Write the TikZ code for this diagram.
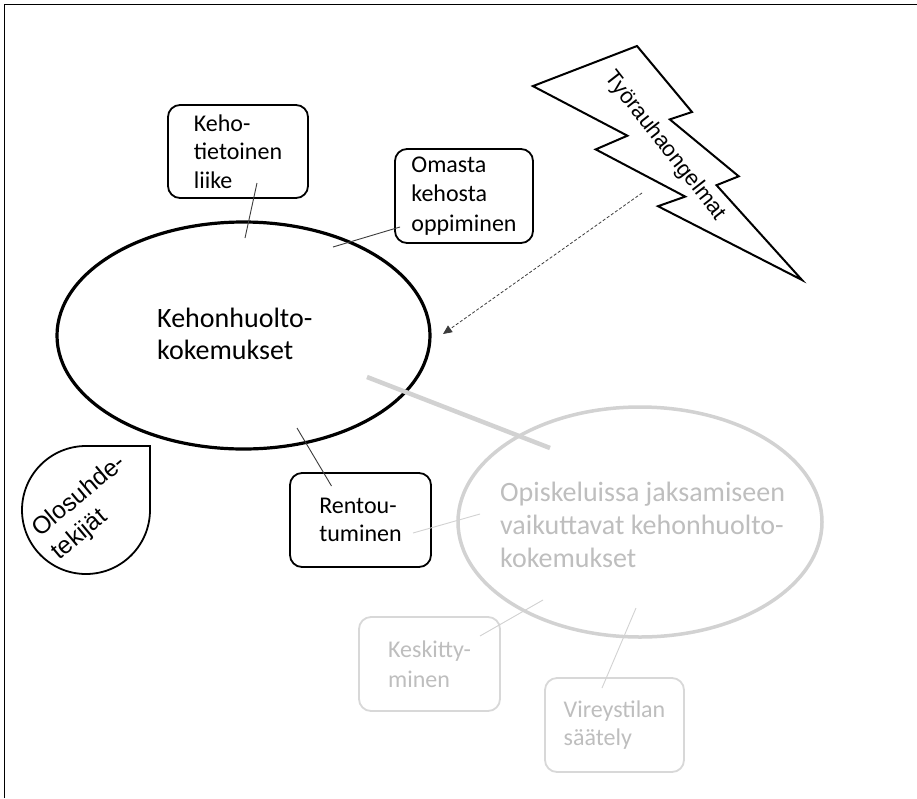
\documentclass[tikz,border=0pt]{standalone}
\usepackage{fontspec}
\setmainfont{Carlito}
\newfontfamily\arifont{Liberation Sans}
\usetikzlibrary{shapes.geometric,arrows.meta}
\definecolor{lightg}{HTML}{D2D2D2}
\definecolor{lighttxt}{HTML}{BEBEBE}
\definecolor{lightbox}{HTML}{D8D8D8}
\definecolor{connc}{HTML}{3C3C3C}
\begin{document}
\begin{tikzpicture}[x=1pt,y=-1pt,
  boxd/.style={draw, rounded corners=12pt, line width=1.8pt, minimum width=140pt, minimum height=93pt,
    align=left, inner sep=0pt, font=\fontsize{24}{28.5}\selectfont},
  boxl/.style={boxd, draw=lightbox, text=lighttxt},
  connd/.style={draw=connc, line width=0.9pt},
  connl/.style={draw=lightg, line width=0.9pt},
  bigtxt/.style={font=\fontsize{28}{31.5}\selectfont, align=left, inner sep=0pt, anchor=west}
]
\useasboundingbox (0,0) rectangle (917,798);
\fill[white] (0,0) rectangle (917,798);

% frame
\coordinate (fa) at (4.5,798);
\coordinate (fb) at (4.5,4.5);
\coordinate (fc) at (917,4.5);
\draw[line width=1.3pt] (fa) -- (fb) -- (fc);

% main ellipse
\node[draw, ellipse, line width=3.2pt, minimum width=373pt, minimum height=227pt, inner sep=0pt] (main) at (243.5,335.5) {};
\node[bigtxt] (maint) at (157,334) {Kehonhuolto-\\kokemukset};

% light ellipse
\node[draw=lightg, ellipse, line width=3.5pt, minimum width=364pt, minimum height=230pt, inner sep=0pt] (light) at (640,522) {};
\node[bigtxt, text=lighttxt, font=\fontsize{28}{33}\selectfont] (lightt) at (500,525) {Opiskeluissa jaksamiseen\\vaikuttavat kehonhuolto-\\kokemukset};

% boxes
\node[boxd] (keho) at (238,151.5) {Keho-\\tietoinen\\liike};
\node[boxd, minimum width=138pt, minimum height=94pt, font=\fontsize{24}{29.5}\selectfont] (omasta) at (464,196) {Omasta\\kehosta\\oppiminen};
\node[boxd, minimum width=141pt, minimum height=94pt] (rentou) at (360.5,520) {Rentou-\\tuminen};
\node[boxl, minimum width=141pt, minimum height=94pt, font=\fontsize{24}{30}\selectfont] (kesk) at (429.5,664) {Keskitty-\\minen};
\node[boxl, minimum width=139pt, minimum height=94pt] (vire) at (614.5,725) {Vireystilan\\säätely};

% teardrop
\draw[line width=1.8pt] (150,446) -- (150,510) arc[start angle=0, end angle=270, radius=64] -- cycle;
\node[font=\arifont\fontsize{24.5}{30}\selectfont, rotate=40, align=left, inner sep=0pt] (olo) at (89,508) {Olosuhde-\\tekijät};

% lightning bolt
\draw[line width=2pt, line join=miter] (637,46) -- (692,112) -- (669.8,119.4) -- (738.7,176.3) -- (716.5,185.2)
  -- (802,280) -- (658,206.2) -- (685.2,196.6) -- (595.7,149.4) -- (627.4,135.7) -- (532.9,86.1) -- cycle;
\node[font=\arifont\fontsize{22}{24}\selectfont, rotate=-52, inner sep=0pt] (tyo) at (665,146) {Työrauhaongelmat};

% connectors
\coordinate (k1) at (257,183);  \coordinate (k2) at (245,238);
\coordinate (o1) at (400,227);  \coordinate (o2) at (333,247);
\coordinate (r1) at (297,428);  \coordinate (r2) at (331.5,486);
\coordinate (l1) at (413,533);  \coordinate (l2) at (480,514);
\coordinate (s1) at (480,636);  \coordinate (s2) at (543,600);
\coordinate (v1) at (602,688);  \coordinate (v2) at (636,608);
\coordinate (g1) at (367,377);  \coordinate (g2) at (550,448);
\coordinate (da) at (642,193);  \coordinate (db) at (443,334);

\draw[connd] (k1) -- (k2);
\draw[connd] (o1) -- (o2);
\draw[connd] (r1) -- (r2);
\draw[connl] (l1) -- (l2);
\draw[connl] (s1) -- (s2);
\draw[connl] (v1) -- (v2);
\draw[draw=lightg, line width=4.5pt] (g1) -- (g2);
\draw[connc, line width=0.8pt, dash pattern=on 3pt off 2pt, -{Triangle[length=9pt,width=8pt]}] (da) -- (db);
\end{tikzpicture}
\end{document}
